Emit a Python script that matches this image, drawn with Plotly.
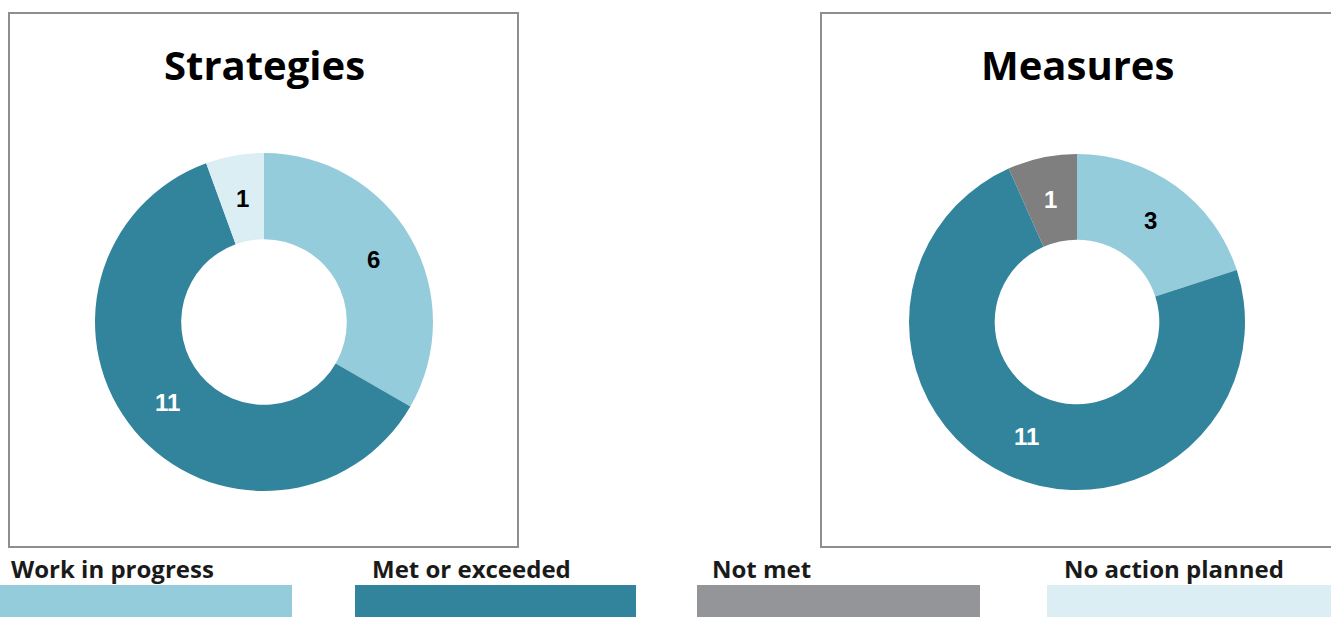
import math
import plotly.graph_objects as go

W, H = 1331, 617

# Status categories and their colours
categories = ["Work in progress", "Met or exceeded", "Not met", "No action planned"]
slice_colors = {
    "Work in progress": "#94CCDB",
    "Met or exceeded": "#31849B",
    "Not met": "#7F7F7F",
    "No action planned": "#DAEEF3",
}
swatch_colors = ["#94CCDB", "#31849B", "#949599", "#DAEEF3"]

# Strategies panel
strategies_labels = ["Work in progress", "Met or exceeded", "No action planned"]
strategies_values = [6, 11, 1]
strategies_text_colors = ["#000000", "#FFFFFF", "#000000"]

# Measures panel
measures_labels = ["Work in progress", "Met or exceeded", "Not met"]
measures_values = [3, 11, 1]
measures_text_colors = ["#000000", "#FFFFFF", "#FFFFFF"]

HOLE = 0.49


def px_x(x):
    return x / W


def px_y(y):
    return 1 - y / H


def donut(labels, values, cx, cy, r, name):
    return go.Pie(
        name=name,
        labels=labels,
        values=values,
        sort=False,
        direction="clockwise",
        rotation=0,
        hole=HOLE,
        marker=dict(colors=[slice_colors[l] for l in labels], line=dict(width=0)),
        textinfo="none",
        domain=dict(x=[px_x(cx - r), px_x(cx + r)], y=[px_y(cy + r), px_y(cy - r)]),
        showlegend=False,
        hoverinfo="label+value",
    )


def value_labels(values, text_colors, cx, cy, r):
    """Place each slice's value at the middle of its ring segment (clockwise from 12 o'clock)."""
    total = sum(values)
    ring_mid = r * (1 + HOLE) / 2
    out = []
    start = 0.0
    for v, c in zip(values, text_colors):
        mid = (start + v / 2) / total * 2 * math.pi
        start += v
        x = cx + ring_mid * math.sin(mid)
        y = cy - ring_mid * math.cos(mid)
        out.append(dict(
            text=str(v), xref="paper", yref="paper", x=px_x(x), y=px_y(y),
            xanchor="center", yanchor="middle", showarrow=False,
            font=dict(family="Liberation Sans", size=24, weight="bold", color=c),
        ))
    return out


panels = [
    ("Strategies", strategies_labels, strategies_values, strategies_text_colors, 264, 322, 169),
    ("Measures", measures_labels, measures_values, measures_text_colors, 1077, 322, 168),
]

fig = go.Figure()
annotations = []
for title, labels, values, tcolors, cx, cy, r in panels:
    fig.add_trace(donut(labels, values, cx, cy, r, title))
    annotations += value_labels(values, tcolors, cx, cy, r)
    annotations.append(dict(
        text=title, xref="paper", yref="paper", x=px_x(cx), y=px_y(65),
        xanchor="center", yanchor="middle", showarrow=False,
        font=dict(family="Open Sans", size=40, weight="bold", color="#000000"),
    ))

shapes = []

# Panel frames
for x0, x1 in [(9, 518), (821, 1340)]:
    shapes.append(dict(
        type="rect", xref="paper", yref="paper",
        x0=px_x(x0), x1=px_x(x1), y0=px_y(547), y1=px_y(13),
        line=dict(color="#8E8E8E", width=2), fillcolor="rgba(0,0,0,0)", layer="below",
    ))

# Legend: label above a colour swatch
swatch_x = [(0, 292), (355, 636), (697, 980), (1047, 1331)]
label_x = [9, 370, 710, 1062]
for cat, col, (x0, x1), lx in zip(categories, swatch_colors, swatch_x, label_x):
    shapes.append(dict(
        type="rect", xref="paper", yref="paper",
        x0=px_x(x0), x1=px_x(x1), y0=px_y(620), y1=px_y(585),
        line=dict(width=0), fillcolor=col,
    ))
    annotations.append(dict(
        text=cat, xref="paper", yref="paper", x=px_x(lx), y=px_y(568),
        xanchor="left", yanchor="middle", showarrow=False,
        font=dict(family="Open Sans", size=24, weight="bold", color="#1A1A1A"),
    ))

fig.update_layout(
    width=W, height=H,
    margin=dict(l=0, r=0, t=0, b=0),
    paper_bgcolor="#FFFFFF",
    plot_bgcolor="#FFFFFF",
    shapes=shapes,
    annotations=annotations,
)

fig.write_html("out.html")
